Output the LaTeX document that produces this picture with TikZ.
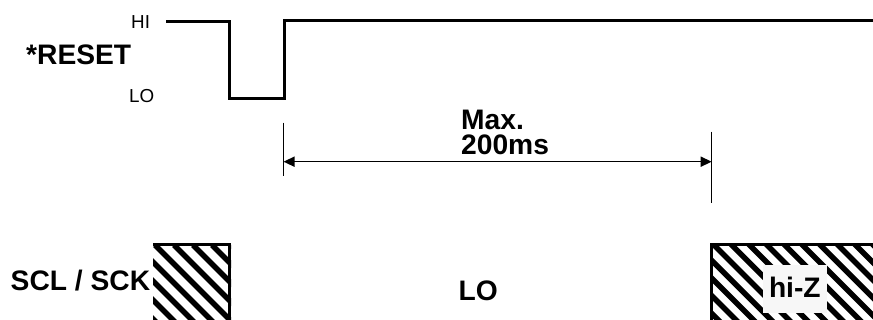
\documentclass[tikz,border=0pt]{standalone}
\usepackage{fontspec}
\setmainfont{Liberation Sans}
\usetikzlibrary{arrows.meta}
\tikzset{
  wave/.style={line width=3pt, line join=miter, line cap=butt},
  border/.style={line width=3pt, line join=miter},
  hatch/.style={line width=5.5pt},
  dimline/.style={line width=1.5pt},
  bigtxt/.style={font=\fontsize{28.2}{25}\selectfont\bfseries, inner sep=0pt, anchor=base west},
  smalltxt/.style={font=\fontsize{18.8}{20}\selectfont, inner sep=0pt, anchor=base west},
}
\begin{document}
\begin{tikzpicture}[x=1pt,y=-1pt]
\useasboundingbox (0,0) rectangle (873,320);
% labels
\node[bigtxt] (reset) at (26,65) {*RESET};
\node[smalltxt] (hi) at (131,29) {HI};
\node[smalltxt] (lo) at (129,103) {LO};
% reset waveform
\coordinate (w0) at (166,21.3);
\coordinate (w1) at (229.5,21.3);
\coordinate (w2) at (229.5,98.7);
\coordinate (w3) at (284.3,98.7);
\coordinate (w4) at (284.3,20.5);
\coordinate (w5) at (873,20.5);
\draw[wave] (w0) -- (w1) -- (w2) -- (w3) -- (w4) -- (w5);
% dimension
\coordinate (dl1) at (283.5,122.7);
\coordinate (dl2) at (283.5,176);
\coordinate (dr1) at (711.7,131.7);
\coordinate (dr2) at (711.7,202.7);
\coordinate (da) at (283.5,161.7);
\coordinate (db) at (711.7,161.7);
\draw[dimline] (dl1) -- (dl2);
\draw[dimline] (dr1) -- (dr2);
\draw[dimline, {Triangle[length=11pt,width=10pt]}-{Triangle[length=11pt,width=10pt]}] (da) -- (db);
\node[bigtxt, align=left] (max) at (461,155) {Max.\\200ms};
% left hatched box
\begin{scope}
  \clip (153,245) rectangle (231,320);
  \foreach \k in {-6,...,5} \draw[hatch] (155+\k*19,245) -- ++(120,120);
\end{scope}
\coordinate (lb1) at (153,245);
\coordinate (lb2) at (229.8,245);
\coordinate (lb3) at (229.8,320);
\draw[border] (lb1) -- (lb2) -- (lb3);
\node[bigtxt] (scl) at (10.5,291) {SCL / SCK};
% LO
\node[bigtxt] (lobig) at (458.5,301) {LO};
% right hatched box
\begin{scope}
  \clip (711,244) rectangle (873,320);
  \foreach \k in {-6,...,10} \draw[hatch] (713+\k*17.7,244) -- ++(120,120);
\end{scope}
\coordinate (rb1) at (711.3,320);
\coordinate (rb2) at (711.3,244.5);
\coordinate (rb3) at (873,244.5);
\draw[border] (rb1) -- (rb2) -- (rb3);
\fill[white!97!black] (762.7,265) rectangle (827.3,312.7);
\node[bigtxt] (hiz) at (768.8,297.3) {hi-Z};
\end{tikzpicture}
\end{document}
